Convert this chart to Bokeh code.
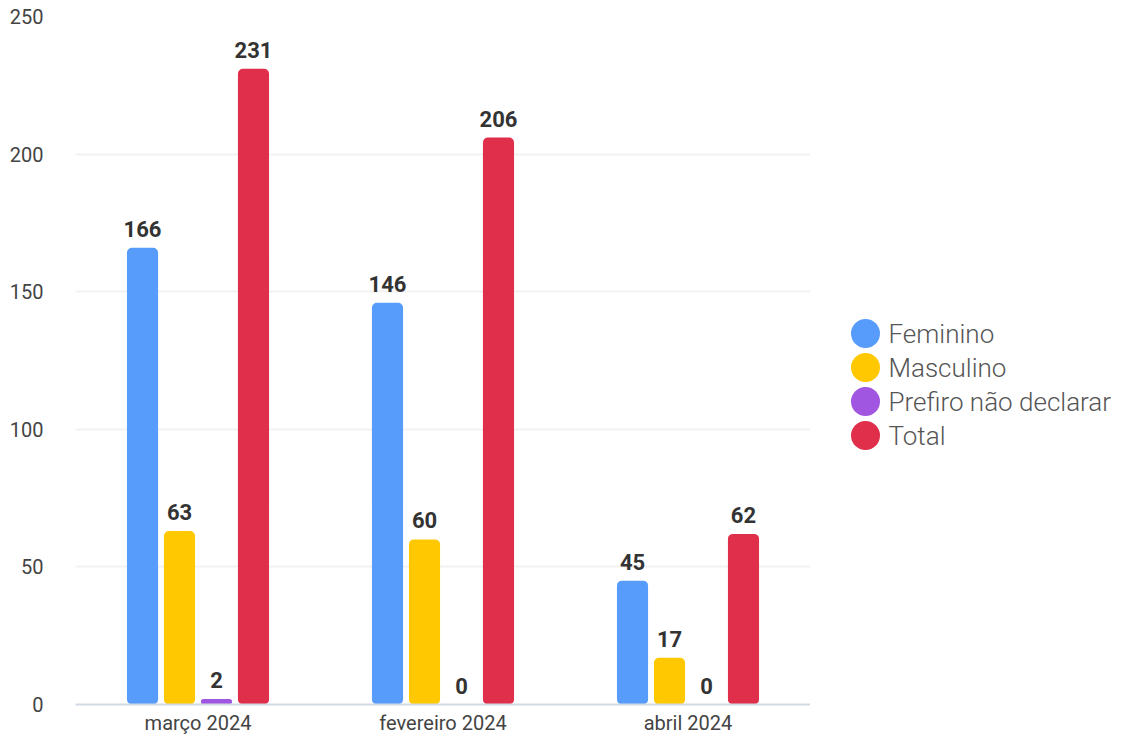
from bokeh.plotting import figure
from bokeh.models import ColumnDataSource, FactorRange, Range1d
from bokeh.layouts import row
from bokeh.transform import dodge
from bokeh.core.properties import value
from bokeh.embed import file_html
from bokeh.resources import INLINE

months = ["março 2024", "fevereiro 2024", "abril 2024"]
series = ["Feminino", "Masculino", "Prefiro não declarar", "Total"]
feminino = [166, 146, 45]
masculino = [63, 60, 17]
nao_declarar = [2, 0, 0]
total = [231, 206, 62]
colors = ["#579cfb", "#ffc800", "#a056e0", "#df2f4a"]
y_ticks = [0, 50, 100, 150, 200, 250]

values = [feminino, masculino, nao_declarar, total]
offsets = [-0.2265, -0.0755, 0.0755, 0.2265]

FONT = value("Roboto")
H = 737
TOP = 16
BOTTOM = 33

p = figure(x_range=FactorRange(*months, range_padding=0), y_range=(0, 250),
           width=810, height=H, output_backend="svg", toolbar_location=None,
           min_border_left=75, min_border_top=TOP, min_border_bottom=BOTTOM, min_border_right=0)
p.outline_line_color = None

for name, vals, col, off in zip(series, values, colors, offsets):
    src = ColumnDataSource(dict(m=months, v=vals, lbl=[str(v) for v in vals]))
    p.vbar(x=dodge("m", off, range=p.x_range), top="v", width=0.127, source=src,
           fill_color=col, line_color=None, border_radius=5)
    p.text(x=dodge("m", off, range=p.x_range), y="v", text="lbl", source=src,
           text_align="center", text_baseline="bottom", y_offset=-11,
           text_font=FONT, text_font_style="bold", text_font_size="22px", text_color="#333333")

p.yaxis.ticker = y_ticks
p.yaxis.axis_line_color = None
p.yaxis.major_tick_line_color = None
p.yaxis.minor_tick_line_color = None
p.yaxis.major_label_text_font = "Roboto"
p.yaxis.major_label_text_font_size = "20px"
p.yaxis.major_label_text_color = "#444444"
p.yaxis.major_label_standoff = 26

p.xaxis.axis_line_color = "#d3d9e4"
p.xaxis.axis_line_width = 2
p.xaxis.major_tick_line_color = None
p.xaxis.minor_tick_line_color = None
p.xaxis.major_label_text_font = "Roboto"
p.xaxis.major_label_text_font_size = "20px"
p.xaxis.major_label_text_color = "#444444"
p.xaxis.major_label_standoff = 0

p.xgrid.grid_line_color = None
p.ygrid.grid_line_color = "#f2f2f2"
p.ygrid.grid_line_width = 2

# legend panel (frame aligned with the main plot's frame)
step = 34.0
first_row_px = 333.0 - TOP
FH = H - TOP - BOTTOM
leg = figure(width=301, height=H, output_backend="svg", toolbar_location=None,
             x_axis_type=None, y_axis_type=None,
             x_range=Range1d(0, 301),
             y_range=Range1d((FH - first_row_px) / step, -first_row_px / step),
             min_border_top=TOP, min_border_bottom=BOTTOM, min_border_left=0, min_border_right=0,
             outline_line_color=None)
leg.grid.visible = False
idx = list(range(len(series)))
lsrc = ColumnDataSource(dict(y=idx, c=colors, t=series, x=[55] * len(series)))
leg.scatter(x="x", y="y", source=lsrc, size=29, marker="circle", fill_color="c", line_color=None)
leg.text(x="x", y="y", text="t", source=lsrc, x_offset=23, text_baseline="middle",
         text_font=value("Roboto Light, Roboto"), text_font_size="26px", text_color="#555555")

layout = row(p, leg, spacing=0)
open("out.html", "w").write(file_html(layout, INLINE))
